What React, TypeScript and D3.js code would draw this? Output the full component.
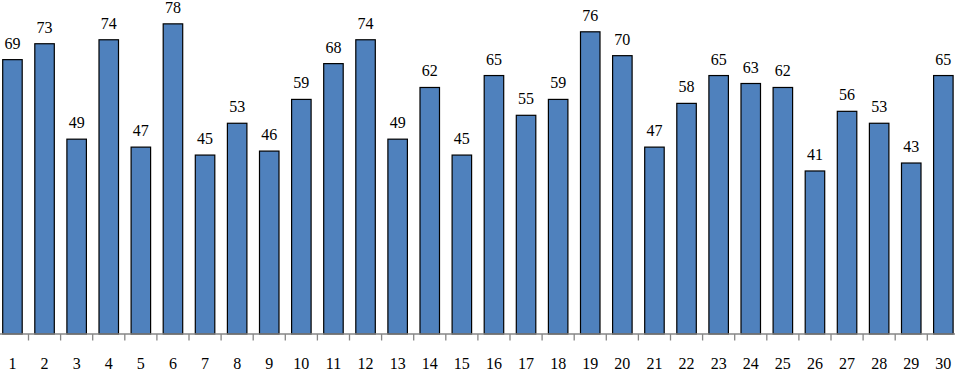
import React from "react";
import * as d3 from "d3";

const categories = Array.from({ length: 30 }, (_, i) => String(i + 1));
const values = [69, 73, 49, 74, 47, 78, 45, 53, 46, 59, 68, 74, 49, 62, 45, 65, 55, 59, 76, 70, 47, 58, 65, 63, 62, 41, 56, 53, 43, 65];

const W = 955;
const H = 370;
const baseY = 334;

export default function App() {
  const x = d3.scaleBand<string>().domain(categories).range([-3.6, 959.4]).paddingInner(0.38).paddingOuter(0.19);
  const y = d3.scaleLinear().domain([0, 84]).range([baseY, 0]);
  const step = x.step();
  const x0 = -3.6;
  const font = { fontFamily: "Liberation Serif, Times New Roman, DejaVu Serif, serif" };
  return (
    <svg width={W} height={H} style={{ position: "absolute", left: 0, top: 0 }}>
      <rect width={W} height={H} fill="#fff" />
      {values.map((v, i) => {
        const cx = (x(categories[i]) as number) + x.bandwidth() / 2;
        const bw = 19.5;
        return (
          <g key={i}>
            <rect x={cx - bw / 2} y={y(v)} width={bw} height={baseY - y(v)} fill="#4F81BD" stroke="#000" strokeWidth={1.2} />
            <text x={cx} y={y(v) - 11} textAnchor="middle" fontSize={16} fill="#000" style={font}>{v}</text>
            <text x={cx} y={369} textAnchor="middle" fontSize={16} fill="#000" style={font}>{categories[i]}</text>
          </g>
        );
      })}
      <line x1={0} x2={W} y1={baseY} y2={baseY} stroke="#868686" strokeWidth={1.3} />
      {categories.slice(1).map((c, i) => {
        const tx = x0 + step * (i + 1);
        return <line key={c} x1={tx} x2={tx} y1={baseY} y2={baseY + 6.5} stroke="#868686" strokeWidth={1.3} />;
      })}
    </svg>
  );
}
